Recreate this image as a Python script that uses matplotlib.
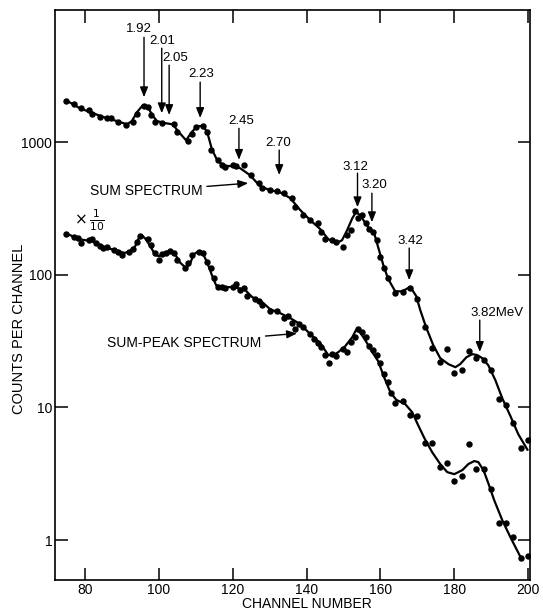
import numpy as np
import matplotlib
matplotlib.use("Agg")
import matplotlib.pyplot as plt
from matplotlib.ticker import NullLocator

# ================= DATA =================
# sum spectrum: measured points (channel, counts)
SUM_CH = [75, 77, 79, 81, 82, 84, 86, 87, 89, 91, 93, 94, 96, 97, 98, 99, 101, 104, 105, 108,
          109, 110, 112, 113, 114, 116, 117, 118, 120, 121, 123, 125, 127, 128, 130, 132, 134, 136,
          137, 139, 141, 143, 144, 145, 147, 148, 150, 151, 152, 153, 154, 155, 156, 157, 158, 159,
          160, 161, 162, 164, 166, 168, 170, 172, 174, 176, 178, 180, 182, 184, 186, 188, 190, 192,
          194, 196, 198, 200]
SUM_CT = [2040, 1950, 1810, 1740, 1640, 1550, 1510, 1530, 1420, 1340, 1420, 1640, 1880, 1840, 1600,
          1420, 1400, 1360, 1190, 1020, 1160, 1300, 1320, 1190, 870, 730, 670, 650, 670, 660, 670,
          563, 488, 447, 434, 429, 410, 376, 325, 281, 258, 244, 211, 185, 182, 177, 161, 199, 217,
          303, 270, 280, 244, 223, 211, 182, 136, 112, 94, 73, 74, 80, 66, 40.5, 27.8, 22.1, 27.4,
          18.2, 19.1, 26.6, 23.4, 22.7, 19.3, 11.5, 10.4, 7.57, 4.91, 5.67]

# sum spectrum: drawn curve
SUM_FIT_CH = [75.4, 78.6, 82.2, 86.0, 88.7, 91.4, 92.7, 94.1, 95.7, 97.1, 98.2, 99.5, 101.7, 103.8,
              105.2, 107.4, 108.7, 110.4, 112.0, 113.1, 114.4, 115.8, 117.7, 119.8, 122.0, 124.7,
              127.4, 130.1, 132.8, 135.6, 138.3, 141.0, 143.7, 145.9, 148.6, 149.6, 151.0, 152.4,
              153.4, 154.5, 156.7, 158.3, 159.4, 160.8, 162.1, 164.0, 165.9, 168.1, 169.7, 170.8,
              172.4, 174.3, 176.2, 178.4, 180.3, 181.6, 183.3, 184.9, 186.2, 187.6, 189.2, 191.1,
              193.0, 195.2, 197.3, 199.8]
SUM_FIT_CT = [2030, 1800, 1650, 1510, 1440, 1360, 1440, 1680, 1900, 1830, 1600, 1440, 1390, 1360,
              1210, 1030, 1170, 1320, 1320, 1190, 880, 730, 660, 660, 636, 563, 465, 434, 419, 378,
              307, 258, 221, 185, 176, 182, 217, 267, 297, 281, 228, 206, 161, 118, 93, 75, 75, 81,
              69, 54, 40, 29.5, 23.5, 21.2, 20.1, 21.2, 23.9, 25.2, 24.8, 23.5, 20.8, 16.1, 11.7,
              8.6, 6.3, 4.8]

# sum-peak spectrum (x 1/10): measured points
PEAK_CH = [75, 77, 78, 79, 81, 82, 83, 84, 85, 86, 88, 89, 90, 92, 93, 94, 95, 97, 98, 99, 100,
           101, 102, 103, 104, 105, 107, 108, 109, 111, 112, 113, 114, 115, 116, 117, 118, 120, 121,
           122, 123, 124, 126, 127, 128, 130, 132, 134, 135, 136, 137, 138, 139, 141, 142, 143, 144,
           145, 146, 147, 148, 150, 151, 152, 153, 154, 155, 156, 157, 158, 159, 160, 161, 162, 163,
           164, 166, 168, 170, 172, 174, 176, 178, 180, 182, 184, 186, 188, 190, 192, 194, 196, 198,
           200]
PEAK_CT = [202, 193, 188, 172, 182, 185, 172, 164, 158, 162, 153, 149, 142, 149, 155, 177, 196, 185,
           167, 146, 130, 143, 146, 151, 146, 129, 112, 122, 142, 149, 145, 125, 112, 94, 81, 81, 79,
           81, 85, 76.6, 79, 69, 66, 63.6, 59, 53.4, 53.4, 46.9, 48.7, 43.4, 38.7, 42.4, 40.5, 35.7,
           32.5, 30.7, 28.6, 24.8, 21.7, 25.2, 24.4, 27.4, 26.3, 31.2, 34.0, 38.7, 37.1, 33.7, 29.0,
           27.0, 24.8, 21.5, 17.8, 15.6, 12.9, 10.8, 11.2, 8.75, 8.6, 5.41, 5.41, 3.57, 3.83, 2.80,
           3.04, 5.26, 3.45, 3.43, 2.41, 1.34, 1.34, 1.05, 0.728, 0.757]

# sum-peak spectrum: drawn curve
PEAK_FIT_CH = [75.4, 78.6, 81.9, 85.4, 88.9, 90.8, 92.2, 93.6, 94.6, 95.4, 96.5, 97.9, 99.0, 100.1,
               101.7, 103.3, 104.4, 105.7, 107.4, 108.5, 109.5, 110.9, 112.0, 113.1, 114.4, 115.5,
               117.1, 119.3, 121.5, 123.4, 125.3, 128.0, 130.1, 132.8, 135.6, 138.3, 141.0, 143.7,
               145.9, 147.2, 148.6, 150.5, 152.4, 153.4, 154.5, 156.2, 157.8, 159.4, 161.0, 162.7,
               164.3, 166.7, 168.6, 170.2, 171.9, 174.0, 176.2, 178.1, 180.0, 182.2, 183.8, 185.4,
               186.5, 187.9, 189.2, 190.8, 193.0, 195.2, 198.2]
PEAK_FIT_CT = [202, 185, 179, 161, 151, 146, 151, 164, 189, 199, 185, 161, 141, 138, 148, 151, 143,
               124, 112, 122, 143, 151, 143, 124, 99, 83.5, 80.7, 80.7, 79.3, 76.6, 67.8, 62.2, 55.1,
               51.4, 47.1, 42.4, 35.7, 30.5, 24.8, 24.8, 26.1, 29.0, 33.9, 38.3, 36.9, 31.1, 26.1,
               22.3, 16.9, 13.0, 11.4, 10.6, 9.2, 7.36, 5.87, 4.6, 3.74, 3.25, 3.14, 3.37, 3.74,
               3.94, 3.87, 3.37, 2.69, 2.0, 1.41, 1.05, 0.72]

# energy markers (MeV): label, channel, arrow tip, arrow tail, label x, label y, alignment
E_LABELS = ["1.92", "2.01", "2.05", "2.23", "2.45", "2.70", "3.12", "3.20", "3.42", "3.82MeV"]
E_CH = [96.0, 100.8, 102.8, 111.2, 121.7, 132.6, 153.8, 157.7, 167.8, 186.9]
E_TIP = [2180, 1650, 1600, 1520, 735, 565, 323, 249, 91, 26.2]
E_TAIL = [6170, 5100, 3800, 2830, 1270, 870, 583, 412, 159, 45.5]
E_TX = [94.6, 100.9, 101.0, 111.4, 122.2, 132.4, 153.2, 158.4, 168.1, 191.6]
E_TY = [7090, 5760, 4290, 3250, 1445, 986, 650, 473, 180, 51.6]
E_HA = ["center", "center", "left", "center", "center", "center", "center", "center", "center", "center"]

XTICKS = [80, 100, 120, 140, 160, 180, 200]
YTICKS = [1, 10, 100, 1000]
YTICKLABELS = ["1", "10", "100", "1000"]

# ================= SETTINGS =================
W, H, DPI = 543, 611, 100
FONT = ["Liberation Sans", "DejaVu Sans"]
LABEL_FS = 10
ENERGY_FS = 9.5
ARROW = "-|>,head_length=0.5,head_width=0.2"

plt.rcParams["font.family"] = FONT
plt.rcParams["mathtext.fontset"] = "dejavusans"

fig = plt.figure(figsize=(W / DPI, H / DPI), dpi=DPI)
ax = fig.add_axes([55 / W, 31 / H, 475 / W, 570 / H])
ax.set_yscale("log")
ax.set_xlim(71.9, 200.5)
ax.set_ylim(0.5, 9900)

for fx, fy, px, py in [(SUM_FIT_CH, SUM_FIT_CT, SUM_CH, SUM_CT),
                       (PEAK_FIT_CH, PEAK_FIT_CT, PEAK_CH, PEAK_CT)]:
    ax.plot(fx, fy, color="black", lw=1.6, solid_joinstyle="round", zorder=2)
    ax.plot(px, py, "o", color="black", ms=3.6, zorder=3)

for lab, x, tip, tail, tx, ty, ha in zip(E_LABELS, E_CH, E_TIP, E_TAIL, E_TX, E_TY, E_HA):
    ax.annotate("", xy=(x, tip), xytext=(x, tail),
                arrowprops=dict(arrowstyle=ARROW, color="black", lw=1.0,
                                mutation_scale=12, shrinkA=0, shrinkB=0))
    ax.text(tx, ty, lab, ha=ha, va="center", fontsize=ENERGY_FS)

# curve labels with pointer arrows
ax.annotate("SUM SPECTRUM", xy=(124.2, 490), xytext=(81.4, 427),
            fontsize=LABEL_FS, va="center", ha="left",
            arrowprops=dict(arrowstyle=ARROW, color="black", lw=1.0,
                            mutation_scale=12, shrinkA=1, shrinkB=0))
ax.annotate("SUM-PEAK SPECTRUM", xy=(137.4, 36.1), xytext=(86.0, 30.7),
            fontsize=LABEL_FS, va="center", ha="left",
            arrowprops=dict(arrowstyle=ARROW, color="black", lw=1.0,
                            mutation_scale=12, shrinkA=1, shrinkB=0))
ax.text(77.0, 258, r"$\times\,\frac{1}{10}$", fontsize=11, ha="left", va="center")

# axes styling
for s in ax.spines.values():
    s.set_linewidth(1.2)
ax.set_xticks(XTICKS)
ax.set_yticks(YTICKS)
ax.set_yticklabels(YTICKLABELS)
ax.yaxis.set_minor_locator(NullLocator())
ax.tick_params(direction="in", length=9, width=1.1, top=True, right=True,
               labelsize=LABEL_FS)
ax.tick_params(axis="y", pad=2)
ax.tick_params(axis="x", pad=2.5)

ax.set_xlabel("CHANNEL NUMBER", fontsize=LABEL_FS)
ax.xaxis.set_label_coords(0.53, -0.05)
ax.xaxis.label.set_verticalalignment("baseline")
ax.set_ylabel("COUNTS PER CHANNEL", fontsize=LABEL_FS + 0.5)
ax.yaxis.set_label_coords(-0.062, 0.44)

fig.savefig("out.png", dpi=DPI)
